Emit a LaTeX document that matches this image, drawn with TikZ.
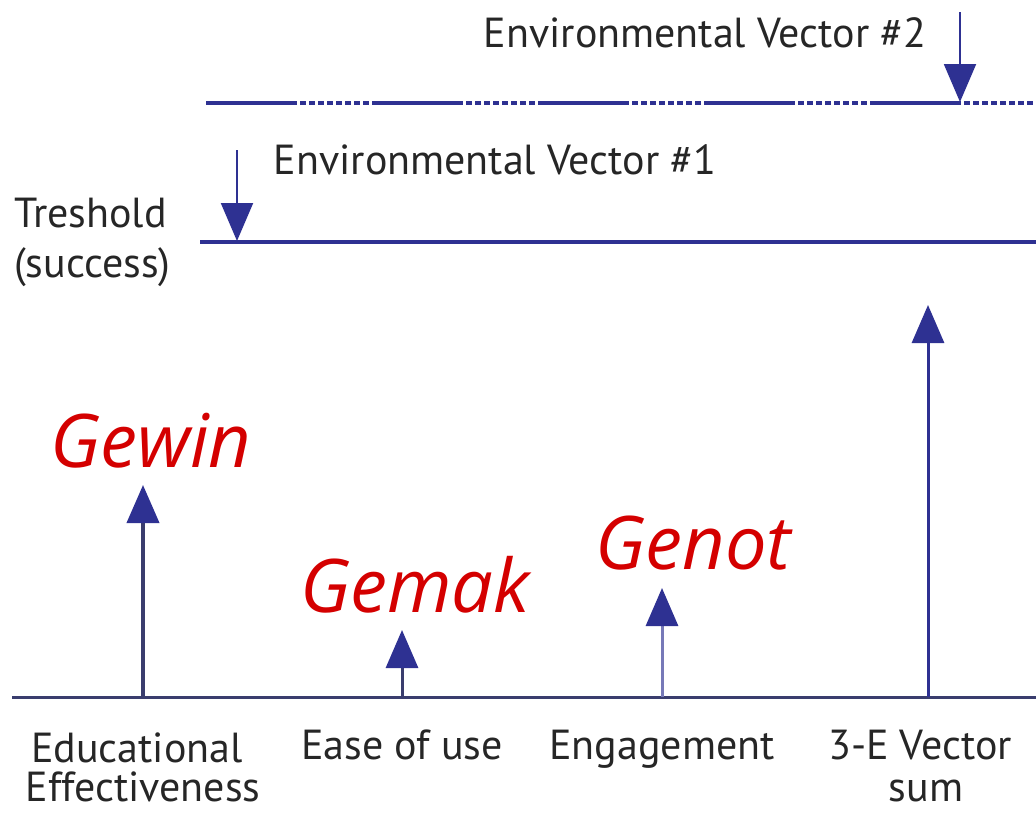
\documentclass[tikz,border=0pt]{standalone}
\usepackage{fontspec}
\setmainfont{PT Sans}
\newfontfamily\handfont{Open Sans}
\usetikzlibrary{arrows.meta}
\definecolor{navy}{HTML}{2E3192}
\definecolor{basecol}{HTML}{3A3D6E}
\definecolor{txt}{HTML}{262626}
\definecolor{redhand}{HTML}{D40000}
\tikzset{
  lbl/.style={font=\fontsize{42}{46}\selectfont, text=txt, inner sep=0pt, anchor=base, align=center},
  hand/.style={font=\handfont\itshape\fontsize{74}{78}\selectfont, text=redhand, inner sep=0pt, anchor=base west},
  vec/.style={draw=navy, line width=3pt, -{Triangle[width=32pt,length=38pt,color=navy]}},
  level/.style={draw=navy, line width=3.5pt},
}
\begin{document}
\begin{tikzpicture}[x=1pt,y=-1pt]
\useasboundingbox (0,0) rectangle (1036,812);
% lines
\coordinate (b0) at (12,697);
\coordinate (b1) at (1036,697);
\draw[basecol, line width=3pt] (b0) -- (b1);
\coordinate (t0) at (200,242);
\coordinate (t1) at (1036,242);
\draw[level] (t0) -- (t1);
\coordinate (u0) at (206,103);
\coordinate (u1) at (1036,103);
\draw[level, line width=4pt, dash pattern=on 91pt off 3pt on 6pt off 3pt on 6pt off 3pt on 6pt off 3pt on 6pt off 3pt on 6pt off 3pt on 6pt off 3pt on 6pt off 3pt on 6pt off 3pt] (u0) -- (u1);
% environmental vectors
\coordinate (e1s) at (237,150);
\coordinate (e1e) at (237,241);
\draw[vec, line width=2pt] (e1s) -- (e1e);
\coordinate (e2s) at (960,12);
\coordinate (e2e) at (960,102);
\draw[vec, line width=2pt] (e2s) -- (e2e);
% upward vectors
\coordinate (v1s) at (143,697);
\coordinate (v1e) at (143,485);
\draw[vec, draw=basecol, line width=4pt] (v1s) -- (v1e);
\coordinate (v2s) at (402,697);
\coordinate (v2e) at (402,630);
\draw[vec, draw=basecol] (v2s) -- (v2e);
\coordinate (v3s) at (662,697);
\coordinate (v3e) at (662,588);
\draw[vec, draw=navy!65] (v3s) -- (v3e);
\coordinate (v4s) at (928,697);
\coordinate (v4e) at (928,305);
\draw[vec] (v4s) -- (v4e);
% labels
\node[lbl] (env2) at (705,47) {Environmental Vector \#2};
\node[lbl] (env1) at (495,174) {Environmental Vector \#1};
\node[lbl, anchor=base west] (thr1) at (14,227) {Treshold};
\node[lbl, anchor=base west] (thr2) at (14,277) {(success)};
\node[lbl] (l1a) at (137,762) {Educational};
\node[lbl] (l1b) at (143,801) {Effectiveness};
\node[lbl] (l2) at (402,759) {Ease of use};
\node[lbl] (l3) at (662,759) {Engagement};
\node[lbl] (l4a) at (920,759) {3-E Vector};
\node[lbl] (l4b) at (926,801) {sum};
% handwritten
\node[hand] (gewin) at (50,467) {Gewin};
\node[hand] (gemak) at (300,612) {Gemak};
\node[hand] (genot) at (595,569) {Genot};
\end{tikzpicture}
\end{document}
